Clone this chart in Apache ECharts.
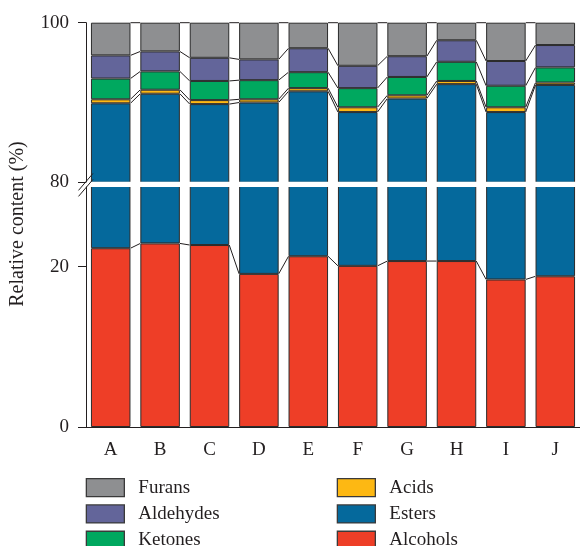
<!DOCTYPE html>
<html>
<head>
<meta charset="utf-8">
<title>Relative content</title>
<script src="https://cdn.jsdelivr.net/npm/echarts@6/dist/echarts.min.js"></script>
<style>
    html, body { margin: 0; padding: 0; background: #fff; }
    #main { width: 580px; height: 546px; }
</style>
</head>
<body>
<div id="main"></div>
<script>
// 样品
const categories = ['A', 'B', 'C', 'D', 'E', 'F', 'G', 'H', 'I', 'J']

// 各类物质相对含量 (%)
const alcohols  = [22.3, 22.9, 22.7, 19.1, 21.3, 20.1, 20.7, 20.7, 18.4, 18.8]
const esters    = [67.6, 68.2, 67.1, 70.9, 70.1, 68.7, 69.8, 71.6, 70.4, 73.4]
const acids     = [0.5, 0.5, 0.5, 0.4, 0.4, 0.6, 0.4, 0.4, 0.6, 0.3]
const ketones   = [2.6, 2.3, 2.4, 2.4, 2.0, 2.4, 2.3, 2.4, 2.7, 1.9]
const aldehydes = [2.9, 2.5, 2.9, 2.6, 3.0, 2.8, 2.6, 2.7, 3.1, 2.8]
const furans    = [4.1, 3.6, 4.4, 4.6, 3.2, 5.4, 4.2, 2.2, 4.8, 2.8]

// 断轴刻度
const upperTicks = [80, 100]
const upperMinor = [90]
const lowerTicks = [0, 20]
const lowerMinor = [10]

const FONT = 'Liberation Serif'
const INK = '#231f20'

// 堆叠顺序 (从下到上)
let stackOrder = [
    { name: 'Alcohols', data: alcohols, color: '#ee3e27' },
    { name: 'Esters', data: esters, color: '#05699c' },
    { name: 'Acids', data: acids, color: '#fdb813' },
    { name: 'Ketones', data: ketones, color: '#00a85f' },
    { name: 'Aldehydes', data: aldehydes, color: '#63659a' },
    { name: 'Furans', data: furans, color: '#8e8f91' }
]

// 累计高度
function cumulative(k) {
    return categories.map((c, i) => {
        let s = 0
        for (let j = 0; j <= k; j++) s += stackOrder[j].data[i]
        return +s.toFixed(2)
    })
}

// 相邻柱之间的连线数据
function linkData(levels) {
    let out = []
    for (let i = 0; i < categories.length - 1; i++) {
        out.push([i].concat(levels.map(l => l[i]), levels.map(l => l[i + 1])))
    }
    return out
}

function linkRenderer(n) {
    return function (params, api) {
        let i = api.value(0)
        let half = api.size([1, 0])[0] * 0.4
        let children = []
        for (let k = 0; k < n; k++) {
            let p1 = api.coord([i, api.value(1 + k)])
            let p2 = api.coord([i + 1, api.value(1 + n + k)])
            children.push({
                type: 'line',
                shape: { x1: p1[0] + half, y1: p1[1], x2: p2[0] - half, y2: p2[1] },
                style: { stroke: INK, lineWidth: 1 }
            })
        }
        return { type: 'group', children }
    }
}

let upperLevels = [cumulative(1), cumulative(2), cumulative(3), cumulative(4), cumulative(5)]
let lowerLevels = [cumulative(0)]

let seriesData = []
;[0, 1].forEach(g => {
    stackOrder.forEach(item => {
        seriesData.push({
            name: item.name,
            type: 'bar',
            stack: 'total' + g,
            xAxisIndex: g === 0 ? 0 : 1,
            yAxisIndex: g === 0 ? 0 : 2,
            barCategoryGap: '20%',
            itemStyle: { color: item.color, borderColor: '#2b2b2b', borderWidth: 1 },
            data: item.data
        })
    })
})
seriesData.push({
    type: 'custom',
    xAxisIndex: 0,
    yAxisIndex: 0,
    silent: true,
    renderItem: linkRenderer(upperLevels.length),
    data: linkData(upperLevels),
    z: 3
})
seriesData.push({
    type: 'custom',
    xAxisIndex: 1,
    yAxisIndex: 2,
    silent: true,
    renderItem: linkRenderer(lowerLevels.length),
    data: linkData(lowerLevels),
    z: 3
})

let axisLineStyle = { lineStyle: { color: INK, width: 1 } }
let labelStyle = { color: INK, fontFamily: FONT, fontSize: 19 }

function valueAxis(grid, min, max, ticks, main) {
    return {
        type: 'value',
        gridIndex: grid,
        min, max,
        axisLine: { show: main, ...axisLineStyle },
        axisTick: { show: true, customValues: ticks, length: main ? 8 : 4, lineStyle: { color: INK } },
        axisLabel: main ? { show: true, customValues: ticks, margin: 17, ...labelStyle } : { show: false },
        splitLine: { show: false }
    }
}

let legendBase = {
    orient: 'vertical',
    top: 478,
    height: 120,
    padding: 0,
    itemWidth: 38,
    itemHeight: 18,
    itemGap: 7,
    icon: 'rect',
    selectedMode: false,
    itemStyle: { borderColor: '#3a3a3a', borderWidth: 1.3 },
    textStyle: { color: INK, fontFamily: FONT, fontSize: 19, padding: [0, 0, 0, 9] }
}

let option = {
    animation: false,
    backgroundColor: '#fff',
    grid: [
        { left: 86, top: 22.7, width: 503, height: 159.6 },
        { left: 86, top: 186.5, width: 503, height: 240.5 }
    ],
    xAxis: [
        { type: 'category', gridIndex: 0, data: categories, show: false },
        {
            type: 'category', gridIndex: 1, data: categories,
            axisLine: axisLineStyle,
            axisTick: { alignWithLabel: true, length: 8, lineStyle: { color: INK } },
            axisLabel: { margin: 14, ...labelStyle }
        },
        {
            type: 'category', gridIndex: 1, data: categories, position: 'bottom',
            axisLine: { show: false },
            axisTick: { length: 3, lineStyle: { color: INK } },
            axisLabel: { show: false }
        }
    ],
    yAxis: [
        valueAxis(0, 80, 100, upperTicks, true),
        valueAxis(0, 80, 100, upperMinor, false),
        valueAxis(1, 0, 30, lowerTicks, true),
        valueAxis(1, 0, 30, lowerMinor, false)
    ],
    legend: [
        { ...legendBase, left: 85.7, data: ['Furans', 'Aldehydes', 'Ketones'] },
        { ...legendBase, left: 336.7, data: ['Acids', 'Esters', 'Alcohols'] }
    ],
    series: seriesData
}

let myChart = echarts.init(document.getElementById('main'), null, { renderer: 'canvas' })
myChart.setOption(option)

// 断轴: 白色间隔 + 斜线标记
let cA = myChart.convertToPixel({ xAxisIndex: 1 }, 'A')
let cB = myChart.convertToPixel({ xAxisIndex: 1 }, 'B')
let axisX = cA - (cB - cA) / 2
let y80 = myChart.convertToPixel({ yAxisIndex: 0 }, 80)
let y30 = myChart.convertToPixel({ yAxisIndex: 2 }, 30)
let mid = (y80 + y30) / 2

myChart.setOption({
    graphic: [
        {
            type: 'rect', z: 100, silent: true,
            shape: { x: axisX + 0.5, y: y80 - 0.5, width: 600, height: y30 - y80 + 1 },
            style: { fill: '#fff' }
        },
        {
            type: 'line', z: 101, silent: true,
            shape: { x1: axisX - 7.5, y1: mid + 6, x2: axisX + 7, y2: mid - 11 },
            style: { stroke: INK, lineWidth: 1 }
        },
        {
            type: 'line', z: 101, silent: true,
            shape: { x1: axisX - 7.5, y1: mid + 12, x2: axisX + 7, y2: mid - 5 },
            style: { stroke: INK, lineWidth: 1 }
        },
        {
            type: 'text', z: 101, silent: true,
            x: 18, y: 224, rotation: Math.PI / 2,
            style: {
                text: 'Relative content (%)',
                fill: INK, font: '20px "Liberation Serif"',
                align: 'center', verticalAlign: 'middle'
            }
        }
    ]
})
</script>
</body>
</html>
